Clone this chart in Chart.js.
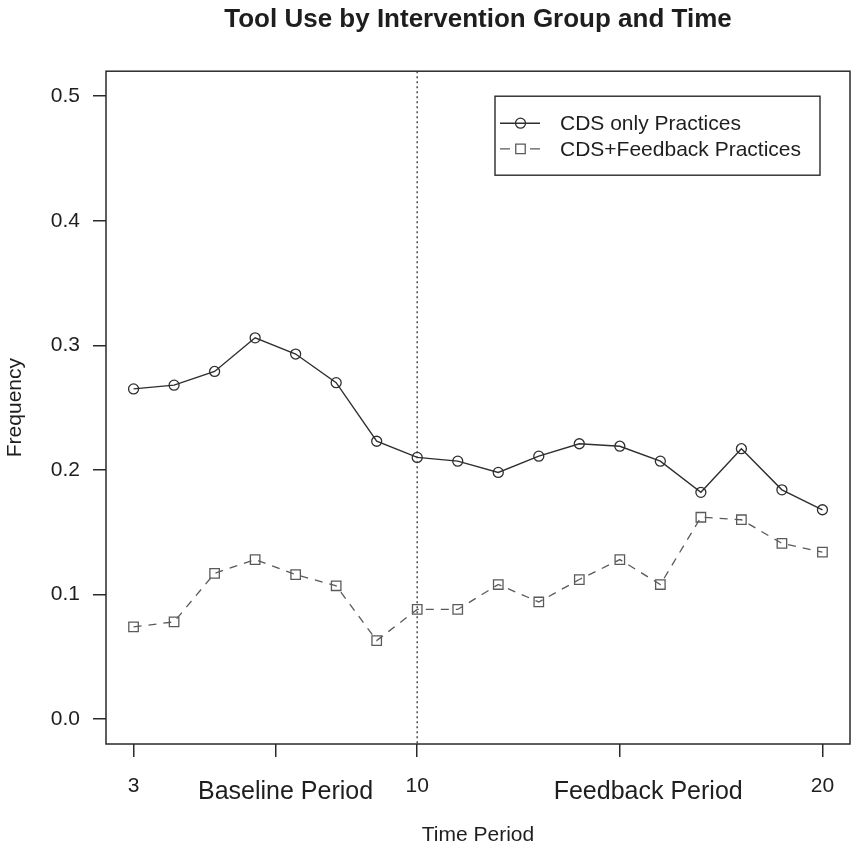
<!DOCTYPE html>
<html>
<head>
<meta charset="utf-8">
<title>Tool Use by Intervention Group and Time</title>
<script src="https://cdn.jsdelivr.net/npm/chart.js@4/dist/chart.umd.min.js"></script>
<style>
  html, body { margin: 0; padding: 0; background: #fff; }
  #wrap { width: 858px; height: 848px; position: relative; }
</style>
</head>
<body>
<div id="wrap"><canvas id="chartToolUse"></canvas></div>
<script>
// time periods 3..20
const periods = [3, 4, 5, 6, 7, 8, 9, 10, 11, 12, 13, 14, 15, 16, 17, 18, 19, 20];
const cdsOnly = [0.265, 0.268, 0.279, 0.306, 0.293, 0.270, 0.223, 0.210, 0.207, 0.198, 0.211, 0.221, 0.219, 0.207, 0.182, 0.217, 0.184, 0.168];
const cdsFeedback = [0.074, 0.078, 0.117, 0.128, 0.116, 0.107, 0.063, 0.088, 0.088, 0.108, 0.094, 0.112, 0.128, 0.108, 0.162, 0.160, 0.141, 0.134];

// tick marks on the time axis, and where the period names sit
const xTickValues = [3, 6.5, 10, 15, 20];
const xTickLabels = ["3", "", "10", "", "20"];
const periodLabelValues = [6.75, 15.7];
const periodLabels = ["Baseline Period", "Feedback Period"];
const yTickValues = [0, 0.1, 0.2, 0.3, 0.4, 0.5];
const interventionStart = 10;

const FONT = "'Liberation Sans', Arial, Helvetica, sans-serif";
const INK = "#1e1e1e";

function toPoints(values) {
  return periods.map((p, i) => ({ x: p, y: values[i] }));
}

// merged list of axis ticks: real ticks plus label-only ticks
const xAxisTicks = xTickValues.map((v, i) => ({ value: v, text: xTickLabels[i], mark: true }))
  .concat(periodLabelValues.map((v, i) => ({ value: v, text: periodLabels[i], mark: false })))
  .sort((a, b) => a.value - b.value);

function isPeriodTick(index) {
  const t = xAxisTicks[index];
  return !!t && !t.mark;
}

const framePlugin = {
  id: "frame",
  beforeDatasetsDraw(chart) {
    const { ctx, chartArea, scales } = chart;
    const x = scales.x.getPixelForValue(interventionStart);
    ctx.save();
    ctx.strokeStyle = "#555";
    ctx.lineWidth = 1.6;
    ctx.setLineDash([2, 3]);
    ctx.beginPath();
    ctx.moveTo(x, chartArea.top);
    ctx.lineTo(x, chartArea.bottom);
    ctx.stroke();
    ctx.restore();
  },
  afterDraw(chart) {
    const { ctx, chartArea } = chart;
    ctx.save();
    ctx.strokeStyle = "#2a2a2a";
    ctx.lineWidth = 1.5;
    ctx.strokeRect(chartArea.left, chartArea.top, chartArea.right - chartArea.left, chartArea.bottom - chartArea.top);

    // legend box, top right inside the plot
    const w = 325, h = 79;
    const left = chartArea.right - 30 - w;
    const top = chartArea.top + 25;
    ctx.lineWidth = 1.4;
    ctx.strokeRect(left, top, w, h);

    chart.data.datasets.forEach((ds, i) => {
      const y = top + 27 + i * 25.6;
      ctx.strokeStyle = ds.borderColor;
      ctx.lineWidth = ds.borderWidth;
      ctx.setLineDash(ds.legendDash);
      ctx.beginPath();
      ctx.moveTo(left + 5, y);
      ctx.lineTo(left + 45, y);
      ctx.stroke();
      ctx.setLineDash([]);
      ctx.lineWidth = ds.pointBorderWidth;
      ctx.strokeStyle = ds.pointBorderColor;
      ctx.fillStyle = "rgba(0,0,0,0)";
      Chart.helpers.drawPoint(ctx, {
        pointStyle: ds.pointStyle,
        radius: ds.pointRadius,
        rotation: 0,
        borderWidth: ds.pointBorderWidth
      }, left + 25.5, y);
      ctx.fillStyle = INK;
      ctx.font = "21px " + FONT;
      ctx.textAlign = "left";
      ctx.textBaseline = "middle";
      ctx.fillText(ds.label, left + 65, y + 1);
    });
    ctx.restore();
  }
};

const ctx = document.getElementById("chartToolUse").getContext("2d");
const chart = new Chart(ctx, {
  type: "line",
  data: {
    datasets: [{
      label: "CDS only Practices",
      data: toPoints(cdsOnly),
      borderColor: "#2f2f2f",
      borderWidth: 1.4,
      pointStyle: "circle",
      pointRadius: 5,
      pointBorderColor: "#2f2f2f",
      pointBorderWidth: 1.3,
      pointBackgroundColor: "rgba(0,0,0,0)",
      legendDash: [],
      tension: 0
    }, {
      label: "CDS+Feedback Practices",
      data: toPoints(cdsFeedback),
      borderColor: "#5a5a5a",
      borderWidth: 1.3,
      borderDash: [8, 7],
      pointStyle: "rect",
      pointRadius: 6.7,
      pointBorderColor: "#5a5a5a",
      pointBorderWidth: 1.3,
      pointBackgroundColor: "rgba(0,0,0,0)",
      legendDash: [10, 20],
      tension: 0
    }]
  },
  options: {
    responsive: true,
    maintainAspectRatio: false,
    animation: false,
    layout: { padding: { left: 0, right: 1, top: 0, bottom: 0 } },
    plugins: {
      legend: { display: false },
      tooltip: { enabled: false },
      title: {
        display: true,
        text: "Tool Use by Intervention Group and Time",
        color: INK,
        fullSize: false,
        font: { family: FONT, size: 26, weight: "bold" },
        padding: { top: 4, bottom: 36 }
      }
    },
    scales: {
      x: {
        type: "linear",
        min: 2.32,
        max: 20.68,
        afterBuildTicks: scale => { scale.ticks = xAxisTicks.map(t => ({ value: t.value })); },
        afterFit: scale => { scale.height = 104; },
        border: { display: false },
        grid: {
          drawOnChartArea: false,
          tickLength: 13,
          color: c => isPeriodTick(c.index) ? "rgba(0,0,0,0)" : "#2a2a2a",
          lineWidth: 1.5
        },
        ticks: {
          autoSkip: false,
          maxRotation: 0,
          color: INK,
          padding: 17,
          callback: (value, index) => xAxisTicks[index] ? xAxisTicks[index].text : "",
          font: c => isPeriodTick(c.index)
            ? { family: FONT, size: 25, lineHeight: 1.48 }
            : { family: FONT, size: 21, lineHeight: 1.2 }
        },
        title: {
          display: true,
          text: "Time Period",
          color: INK,
          font: { family: FONT, size: 21 },
          padding: { top: 0, bottom: 0 }
        }
      },
      y: {
        min: -0.02,
        max: 0.52,
        afterBuildTicks: scale => { scale.ticks = yTickValues.map(v => ({ value: v })); },
        afterFit: scale => { scale.width = 106; },
        border: { display: false },
        grid: { drawOnChartArea: false, tickLength: 13, color: "#2a2a2a", lineWidth: 1.5 },
        ticks: {
          color: INK,
          padding: 13,
          font: { family: FONT, size: 21 },
          callback: v => v.toFixed(1)
        },
        title: {
          display: true,
          text: "Frequency",
          color: INK,
          font: { family: FONT, size: 21 },
          padding: { top: 3, bottom: 0 }
        }
      }
    }
  },
  plugins: [framePlugin]
});
</script>
</body>
</html>
